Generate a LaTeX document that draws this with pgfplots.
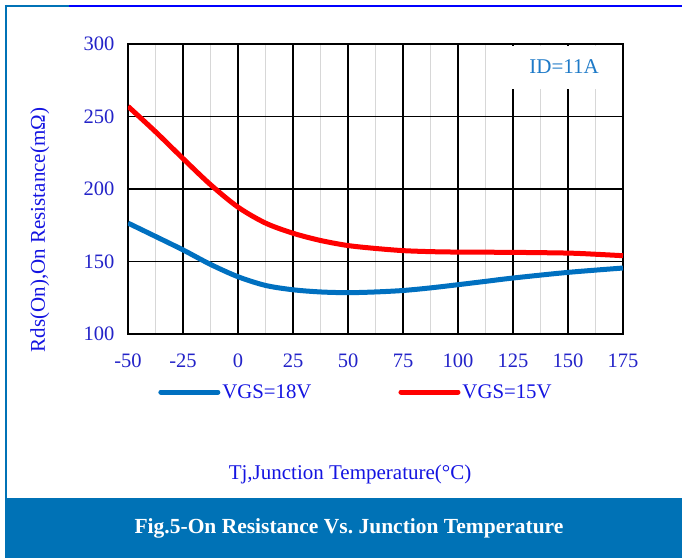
\documentclass[border=0pt]{standalone}
\usepackage{fontspec}
\setmainfont{Liberation Serif}
\usepackage{pgfplots}
\pgfplotsset{compat=1.18}

\definecolor{lblblue}{RGB}{20,20,225}
\definecolor{tickblue}{RGB}{35,35,200}
\definecolor{vgs18}{RGB}{0,112,192}
\definecolor{vgs15}{RGB}{255,0,0}
\definecolor{banner}{RGB}{0,114,182}
\definecolor{idblue}{RGB}{30,122,200}
\definecolor{minorgray}{RGB}{215,215,215}

\begin{document}
\begin{tikzpicture}
% page = 682 x 558 px, axis box lower left at (0,0)
\path[use as bounding box] (-128bp,-224bp) rectangle (554bp,334bp);

\begin{axis}[
  at={(0,0)}, anchor=south west,
  scale only axis, width=495bp, height=290bp,
  xmin=-50, xmax=175, ymin=100, ymax=300,
  xtick={-50,-25,...,175}, ytick={100,150,...,300},
  minor x tick num=1,
  major tick length=0pt, minor tick length=0pt,
  xmajorgrids, xminorgrids, ymajorgrids,
  major grid style={black, line width=1.4bp},
  minor grid style={minorgray, line width=1.5bp},
  axis line style={black, line width=1.5bp},
  /pgf/number format/assume math mode=true,
  ticklabel style={font=\fontsize{20.5bp}{24bp}\selectfont, text=tickblue},
  yticklabel style={anchor=east, inner sep=0pt, xshift=-13.5bp},
  xticklabel style={anchor=north, inner sep=0pt, yshift=-20bp},
  xlabel={Tj,Junction Temperature(°C)},
  ylabel={Rds(On),On Resistance(mΩ)},
  label style={font=\fontsize{21bp}{24bp}\selectfont, text=lblblue},
  xlabel style={at={(axis description cs:0.4485,-0.486)}, anchor=center},
  ylabel style={at={(axis description cs:-0.178,0.359)}, anchor=center},
  legend columns=2,
  legend style={at={(axis description cs:0.4606,-0.2)}, anchor=center,
    draw=none, fill=none, text=lblblue,
    font=\fontsize{20.8bp}{24bp}\selectfont,
    /tikz/every even column/.append style={column sep=85bp}},
  legend image code/.code={\draw[#1, line cap=round] (0bp,0bp) -- (57bp,0bp);},
]
\addplot[vgs18, line width=5bp, smooth] coordinates {
  (-50,176.5) (-37.5,167.3) (-25,158) (-12.5,148) (0,139.5) (12.5,133.5)
  (25,130.5) (37.5,129) (50,128.5) (62.5,129) (75,130) (87.5,131.8)
  (100,134) (112.5,136.3) (125,138.6) (150,142.5) (175,145.5)
};
\addlegendentry{VGS=18V}
\addplot[vgs15, line width=5bp, smooth] coordinates {
  (-50,257) (-37.5,239.5) (-25,221) (-12.5,203) (0,187.5) (12.5,176.5)
  (25,169.5) (37.5,164.5) (50,161) (62.5,159) (75,157.5) (87.5,156.8)
  (100,156.5) (125,156.3) (150,155.8) (162.5,155) (175,154)
};
\addlegendentry{VGS=15V}

\fill[white] (axis cs:124.1,298.6) rectangle (axis cs:164.5,269);
\node[text=idblue, font=\fontsize{21bp}{24bp}\selectfont] at (axis cs:148.2,284.1) {ID=11A};
\end{axis}

% frame and caption banner
\draw[banner, line width=2.3bp] (-123bp,327.9bp) -- (-59bp,327.9bp);
\draw[blue, line width=2.3bp] (-59bp,327.9bp) -- (554bp,327.9bp);
\draw[banner, line width=2.3bp] (-121.8bp,329bp) -- (-121.8bp,-164bp);
\fill[banner] (-123bp,-164bp) rectangle (554bp,-224bp);
\node[text=white, font=\bfseries\fontsize{21.5bp}{24bp}\selectfont] at (221bp,-194bp)
  {Fig.5-On Resistance Vs.\ Junction Temperature};
\end{tikzpicture}
\end{document}
